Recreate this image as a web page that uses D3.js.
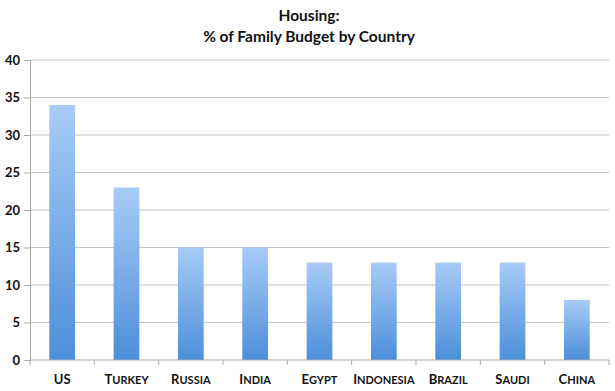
<!DOCTYPE html>
<html>
<head>
<meta charset="utf-8">
<script src="https://cdn.jsdelivr.net/npm/d3@7"></script>
<style>
  body { margin: 0; background: #fff; }
  text { font-family: Lato, "Open Sans", sans-serif; }
</style>
</head>
<body>
<div id="chart"></div>
<script>
const countries = ["US", "Turkey", "Russia", "India", "Egypt", "Indonesia", "Brazil", "Saudi", "China"];
const shares = [34, 23, 15, 15, 13, 13, 13, 13, 8];
const yTicks = [0, 5, 10, 15, 20, 25, 30, 35, 40];

const width = 615, height = 391;
const margin = { top: 60, right: 6, bottom: 31, left: 30 };

const svg = d3.select("#chart")
    .append("svg")
    .attr("width", width)
    .attr("height", height);

// bar gradient, light at top, darker at base
const grad = svg.append("defs").append("linearGradient")
    .attr("id", "barFill")
    .attr("x1", 0).attr("y1", 0).attr("x2", 0).attr("y2", 1);
grad.append("stop").attr("offset", "0%").attr("stop-color", "#a8cbf8");
grad.append("stop").attr("offset", "100%").attr("stop-color", "#4b8fd9");

const x = d3.scaleBand()
    .domain(countries)
    .range([margin.left, width - margin.right])
    .paddingInner(0.6)
    .paddingOuter(0.3);

const y = d3.scaleLinear()
    .domain([0, 40])
    .range([height - margin.bottom, margin.top]);

// Title
["Housing:", "% of Family Budget by Country"].forEach((line, i) => {
    svg.append("text")
        .attr("x", 309)
        .attr("y", 21 + i * 21)
        .attr("text-anchor", "middle")
        .style("font-size", "15.5px")
        .style("font-weight", "bold")
        .style("fill", "#111")
        .text(line);
});

// gridlines
svg.append("g")
    .selectAll("line")
    .data(yTicks.slice(1))
    .enter()
    .append("line")
    .attr("x1", margin.left)
    .attr("x2", width - margin.right)
    .attr("y1", d => y(d))
    .attr("y2", d => y(d))
    .style("stroke", "#c4c4c4")
    .style("stroke-width", 1);

// y axis
const yAxis = svg.append("g")
    .attr("transform", `translate(${margin.left},0)`)
    .call(d3.axisLeft(y).tickValues(yTicks).tickSize(6).tickPadding(4));
yAxis.select(".domain").style("stroke", "#aaa");
yAxis.selectAll(".tick line").style("stroke", "#aaa");
yAxis.selectAll(".tick text")
    .style("font-family", "Lato, 'Open Sans', sans-serif")
    .style("font-size", "13px")
    .style("font-weight", "bold")
    .style("fill", "#111");

// bars
svg.append("g")
    .selectAll("rect")
    .data(countries)
    .enter()
    .append("rect")
    .attr("x", d => x(d))
    .attr("width", x.bandwidth())
    .attr("y", (d, i) => y(shares[i]))
    .attr("height", (d, i) => y(0) - y(shares[i]))
    .style("fill", "url(#barFill)");

// x axis with ticks between categories
const base = y(0);
const xg = svg.append("g");
xg.append("line")
    .attr("x1", margin.left).attr("x2", width - margin.right)
    .attr("y1", base).attr("y2", base)
    .style("stroke", "#aaa");
const step = x.step();
xg.selectAll("line.sep")
    .data(d3.range(countries.length + 1))
    .enter()
    .append("line")
    .attr("class", "sep")
    .attr("x1", i => margin.left + i * step)
    .attr("x2", i => margin.left + i * step)
    .attr("y1", base)
    .attr("y2", base + 5)
    .style("stroke", "#aaa");

// small caps labels: capitals full size, lowercase as smaller capitals
const labels = xg.selectAll("text")
    .data(countries)
    .enter()
    .append("text")
    .attr("x", d => x(d) + x.bandwidth() / 2)
    .attr("y", 384)
    .attr("text-anchor", "middle")
    .style("font-weight", "bold")
    .style("fill", "#111");
labels.selectAll("tspan")
    .data(d => d.split(""))
    .enter()
    .append("tspan")
    .style("font-size", c => c === c.toUpperCase() ? "13px" : "11px")
    .text(c => c.toUpperCase());
</script>
</body>
</html>
